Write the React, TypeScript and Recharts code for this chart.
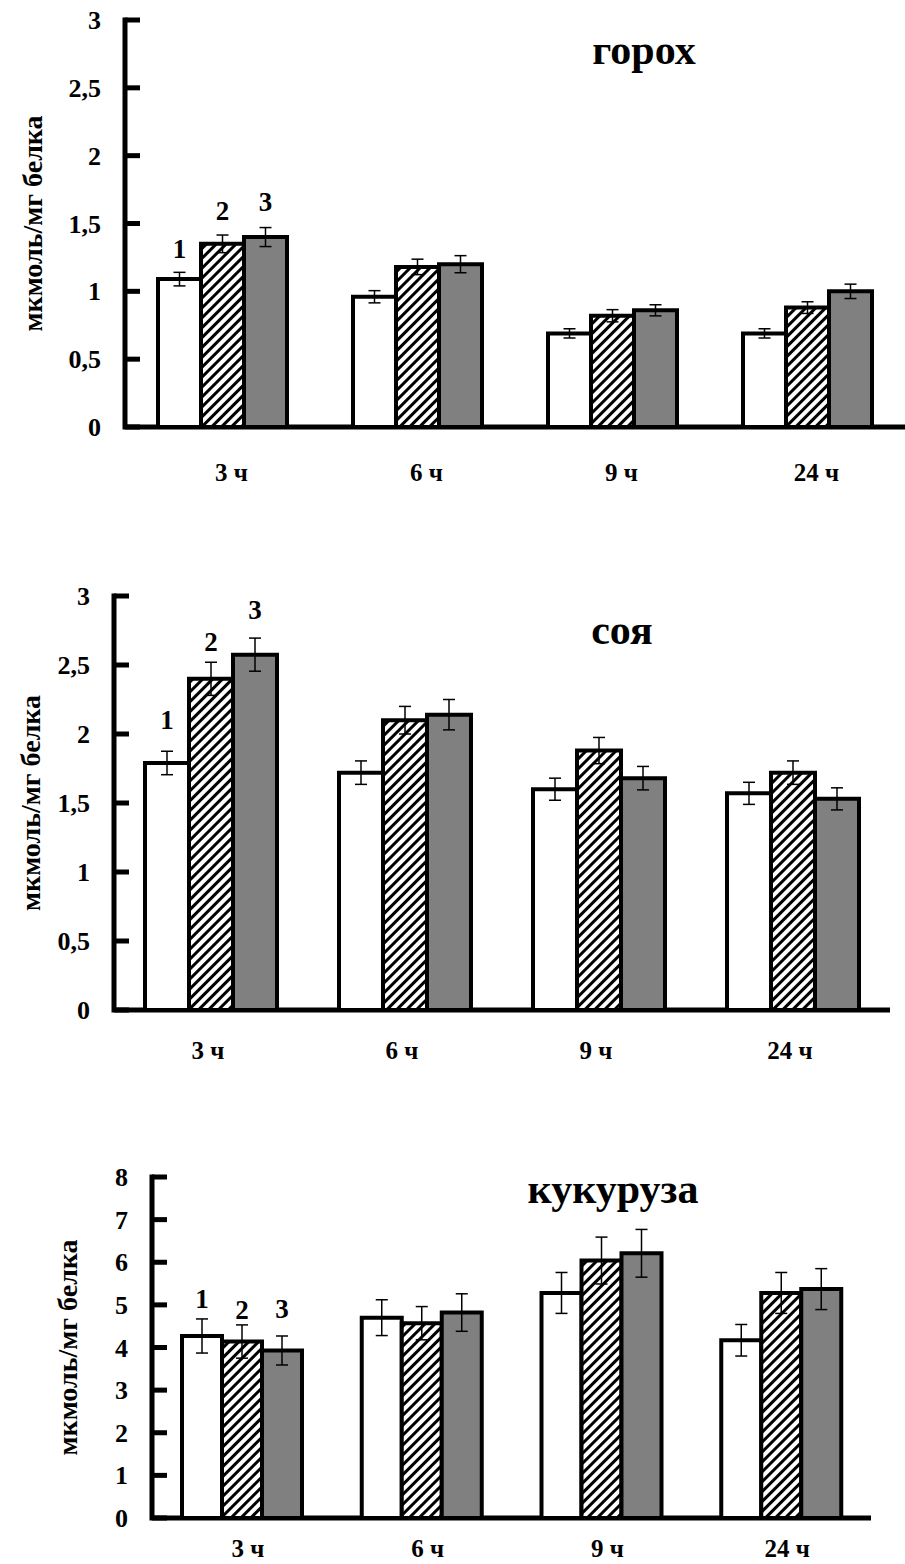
import React from "react";
import { Bar, BarChart, ErrorBar, LabelList, XAxis, YAxis, Label, ReferenceArea, ReferenceLine } from "recharts";

const FONT = '"Liberation Serif", "Times New Roman", serif';

const categories = ["3 ч", "6 ч", "9 ч", "24 ч"];

// горох
const peaS1 = [1.09, 0.96, 0.69, 0.69];
const peaS2 = [1.35, 1.18, 0.82, 0.88];
const peaS3 = [1.4, 1.2, 0.86, 1.0];
const peaE1 = [0.05, 0.045, 0.034, 0.034];
const peaE2 = [0.065, 0.057, 0.045, 0.043];
const peaE3 = [0.07, 0.063, 0.041, 0.053];
const peaTicks = [0, 0.5, 1, 1.5, 2, 2.5, 3];

// соя
const soyS1 = [1.79, 1.72, 1.6, 1.57];
const soyS2 = [2.4, 2.1, 1.88, 1.72];
const soyS3 = [2.575, 2.14, 1.68, 1.53];
const soyE1 = [0.085, 0.085, 0.08, 0.08];
const soyE2 = [0.12, 0.1, 0.095, 0.085];
const soyE3 = [0.12, 0.11, 0.085, 0.08];
const soyTicks = [0, 0.5, 1, 1.5, 2, 2.5, 3];

// кукуруза
const cornS1 = [4.27, 4.7, 5.28, 4.17];
const cornS2 = [4.14, 4.57, 6.04, 5.28];
const cornS3 = [3.93, 4.82, 6.21, 5.37];
const cornE1 = [0.4, 0.42, 0.48, 0.37];
const cornE2 = [0.39, 0.39, 0.55, 0.48];
const cornE3 = [0.34, 0.44, 0.56, 0.48];
const cornTicks = [0, 1, 2, 3, 4, 5, 6, 7, 8];

const seriesNames = ["1", "2", "3"];
const yLabel = "мкмоль/мг белка";

function buildRows(s1: number[], s2: number[], s3: number[], e1: number[], e2: number[], e3: number[]) {
  return categories.map((name, i) => ({
    name,
    s1: s1[i],
    s2: s2[i],
    s3: s3[i],
    e1: e1[i],
    e2: e2[i],
    e3: e3[i],
  }));
}

const fmt = (v: number) => String(v).replace(".", ",");

type PanelProps = {
  id: string;
  title: string;
  titleX: number;
  titleY: number;
  top: number;
  width: number;
  height: number;
  axisX: number;
  plotTop: number;
  plotBottom: number;
  labelX: number;
  xLabelOffset: number;
  xLabelDx: number;
  barSize: number;
  ticks: number[];
  numOffsets: number[];
  rows: ReturnType<typeof buildRows>;
};

function Panel(p: PanelProps) {
  const YTick = (props: any) => {
    const { y, payload } = props;
    return (
      <text x={p.axisX - 24} y={y} dy="0.35em" textAnchor="end" fontFamily={FONT} fontWeight="bold" fontSize={26} fill="#000">
        {fmt(payload.value)}
      </text>
    );
  };

  const XTick = (props: any) => {
    const { x, y, payload } = props;
    return (
      <text x={x + p.xLabelDx} y={y + p.xLabelOffset} dy="0.35em" textAnchor="middle" fontFamily={FONT} fontWeight="bold" fontSize={25} fill="#000">
        {payload.value}
      </text>
    );
  };

  const numLabel = (k: number) => (props: any) => {
    const { x, y, width, index } = props;
    if (index !== 0) return null;
    return (
      <text x={x + width / 2} y={y - p.numOffsets[k]} dy="0.35em" textAnchor="middle" fontFamily={FONT} fontWeight="bold" fontSize={27} fill="#000">
        {seriesNames[k]}
      </text>
    );
  };

  // inward tick stub starting at the reference line's left end (the y axis)
  const tickStub = (sp: any) => (
    <rect x={sp.x1} y={sp.y1 - 2.5} width={15} height={5} fill="#000" />
  );

  // L-shaped frame: left axis + bottom axis over the whole plot area
  const frame = (sp: any) => (
    <path
      d={`M${sp.x},${sp.y}V${sp.y + sp.height}H${sp.x + sp.width}`}
      stroke="#000"
      strokeWidth={5}
      fill="none"
      strokeLinecap="square"
    />
  );

  const fills = ["#ffffff", `url(#${p.id}-hatch)`, "#808080"];
  const max = p.ticks[p.ticks.length - 1];

  return (
    <div style={{ position: "absolute", left: 0, top: p.top, width: p.width, height: p.height }}>
      <BarChart
        width={p.width}
        height={p.height}
        data={p.rows}
        barGap={0}
        margin={{ top: p.plotTop, right: 0, bottom: 0, left: 0 }}
      >
        <defs>
          <pattern id={`${p.id}-hatch`} patternUnits="userSpaceOnUse" width={7} height={7} patternTransform="rotate(45)">
            <rect width={7} height={7} fill="#fff" />
            <line x1={3.5} y1={0} x2={3.5} y2={7} stroke="#000" strokeWidth={3} />
          </pattern>
        </defs>
        <XAxis
          dataKey="name"
          height={p.height - p.plotBottom}
          tickLine={false}
          tickSize={0}
          tickMargin={0}
          axisLine={false}
          tick={XTick}
          interval={0}
        />
        <YAxis
          width={p.axisX}
          domain={[0, max]}
          ticks={p.ticks}
          tickLine={false}
          tickSize={0}
          tickMargin={0}
          axisLine={false}
          tick={YTick}
          interval={0}
        >
          <Label
            content={(lp: any) => {
              const vb = lp.viewBox;
              const cy = vb.y + vb.height / 2;
              return (
                <text
                  transform={`translate(${p.labelX}, ${cy}) rotate(-90)`}
                  dy="0.35em"
                  textAnchor="middle"
                  fontFamily={FONT}
                  fontWeight="bold"
                  fontSize={28}
                  fill="#000"
                >
                  {yLabel}
                </text>
              );
            }}
          />
        </YAxis>
        {p.ticks.map((t) => (
          <ReferenceLine key={`t${t}`} y={t} ifOverflow="visible" shape={tickStub} />
        ))}
        {[0, 1, 2].map((k) => (
          <Bar
            key={k}
            dataKey={`s${k + 1}`}
            fill={fills[k]}
            stroke="#000"
            strokeWidth={4}
            barSize={p.barSize}
            isAnimationActive={false}
          >
            <ErrorBar dataKey={`e${k + 1}`} width={6} stroke="#000" strokeWidth={1.5} direction="y" />
            <LabelList dataKey={`s${k + 1}`} content={numLabel(k)} />
          </Bar>
        ))}
        <ReferenceArea y1={0} y2={max} ifOverflow="visible" shape={frame} />
      </BarChart>
      <div
        style={{
          position: "absolute",
          left: p.titleX,
          top: p.titleY - p.top,
          transform: "translate(-50%, -50%)",
          fontFamily: FONT,
          fontWeight: "bold",
          fontSize: 42,
          lineHeight: 1,
          whiteSpace: "nowrap",
          color: "#000",
        }}
      >
        {p.title}
      </div>
    </div>
  );
}

export default function App() {
  return (
    <div style={{ position: "absolute", left: 0, top: 0, width: 905, height: 1564, background: "#fff" }}>
      <Panel
        id="pea"
        title="горох"
        titleX={644}
        titleY={50}
        top={0}
        width={905}
        height={495}
        axisX={125}
        plotTop={20}
        plotBottom={427}
        labelX={32}
        xLabelOffset={45}
        xLabelDx={9}
        barSize={43}
        ticks={peaTicks}
        numOffsets={[31, 33, 36]}
        rows={buildRows(peaS1, peaS2, peaS3, peaE1, peaE2, peaE3)}
      />
      <Panel
        id="soy"
        title="соя"
        titleX={622}
        titleY={630}
        top={560}
        width={890}
        height={520}
        axisX={114}
        plotTop={36}
        plotBottom={450}
        labelX={30}
        xLabelOffset={40}
        xLabelDx={-3}
        barSize={44}
        ticks={soyTicks}
        numOffsets={[43, 37, 45]}
        rows={buildRows(soyS1, soyS2, soyS3, soyE1, soyE2, soyE3)}
      />
      <Panel
        id="corn"
        title="кукуруза"
        titleX={613}
        titleY={1189}
        top={1140}
        width={871}
        height={424}
        axisX={152}
        plotTop={37}
        plotBottom={378}
        labelX={67}
        xLabelOffset={30}
        xLabelDx={6}
        barSize={40}
        ticks={cornTicks}
        numOffsets={[37, 32, 42]}
        rows={buildRows(cornS1, cornS2, cornS3, cornE1, cornE2, cornE3)}
      />
    </div>
  );
}
